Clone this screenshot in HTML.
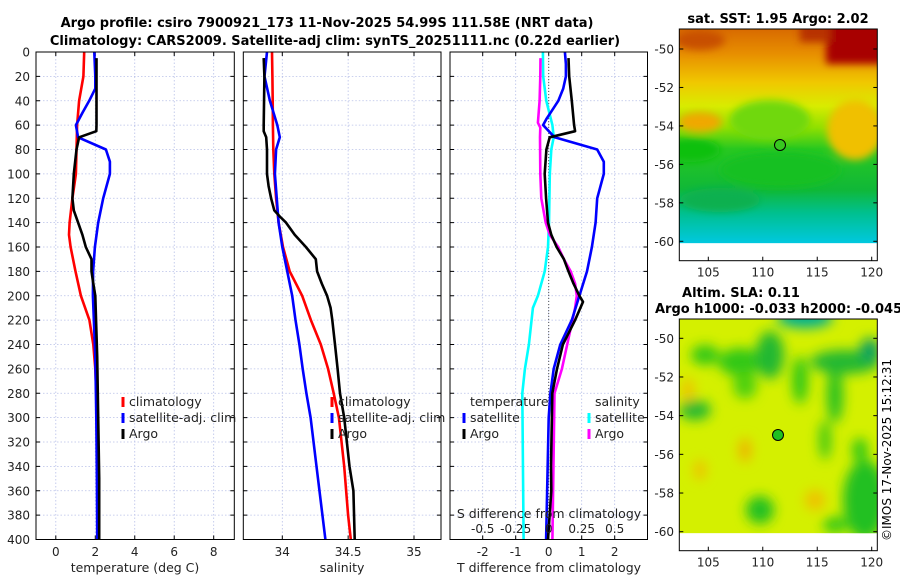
<!DOCTYPE html>
<html><head><meta charset="utf-8"><style>
html,body{margin:0;padding:0;background:#fff;}
svg{display:block;font-family:"DejaVu Sans","Liberation Sans",sans-serif;}
</style></head><body>
<svg id="fig" width="900" height="580" viewBox="0 0 900 580" xmlns="http://www.w3.org/2000/svg">
<defs>
<filter id="blur6" x="-30%" y="-30%" width="160%" height="160%"><feGaussianBlur stdDeviation="6"/></filter>
<filter id="blur4" x="-30%" y="-30%" width="160%" height="160%"><feGaussianBlur stdDeviation="4"/></filter>
<clipPath id="clipTop"><rect x="679.3" y="29" width="198" height="214.3"/></clipPath>
<clipPath id="clipBot"><rect x="679.3" y="319" width="198" height="214.3"/></clipPath>
<linearGradient id="sstGrad" x1="0" y1="0" x2="0" y2="1">
<stop offset="0" stop-color="#d86a00"/><stop offset="0.12" stop-color="#e89000"/>
<stop offset="0.25" stop-color="#f0c800"/><stop offset="0.36" stop-color="#d8ec00"/>
<stop offset="0.46" stop-color="#90e000"/><stop offset="0.56" stop-color="#28c820"/>
<stop offset="0.75" stop-color="#10b838"/><stop offset="0.86" stop-color="#00c090"/>
<stop offset="1" stop-color="#00c8e0"/></linearGradient>
</defs>
<text x="327" y="27" text-anchor="middle" font-size="13" font-weight="bold">Argo profile: csiro 7900921_173 11-Nov-2025 54.99S 111.58E (NRT data)</text>
<text x="335" y="45" text-anchor="middle" font-size="13" font-weight="bold">Climatology: CARS2009. Satellite-adj clim: synTS_20251111.nc (0.22d earlier)</text>
<g id="panels"></g>

<!-- SST map -->
<g>
<text x="778" y="23" text-anchor="middle" font-size="13" font-weight="bold">sat. SST: 1.95 Argo: 2.02</text>
<g clip-path="url(#clipTop)">
<rect x="679.3" y="29" width="198" height="214.3" fill="url(#sstGrad)"/>
<g filter="url(#blur4)">
<rect x="826" y="20" width="70" height="44" fill="#a80000"/>
<rect x="800" y="20" width="30" height="22" fill="#b83000"/>
<ellipse cx="700" cy="40" rx="25" ry="10" fill="#c85000"/>
<ellipse cx="690" cy="150" rx="30" ry="12" fill="#10c010"/>
<ellipse cx="770" cy="120" rx="40" ry="20" fill="#70d808"/>
<ellipse cx="855" cy="130" rx="28" ry="30" fill="#f0c000"/>
<ellipse cx="700" cy="122" rx="22" ry="10" fill="#f0a800"/>
<ellipse cx="780" cy="170" rx="60" ry="18" fill="#18c020"/>
<ellipse cx="720" cy="200" rx="40" ry="12" fill="#10b050"/>
</g>
</g>
<rect x="679.3" y="29" width="198" height="231.7" fill="none" stroke="#000" stroke-width="1"/>
<g id="sstTicks"></g>
<circle cx="780" cy="145" r="5.5" fill="#38c820" stroke="#000" stroke-width="1"/>
</g>

<!-- SLA map -->
<g>
<text x="741" y="297" text-anchor="middle" font-size="13" font-weight="bold">Altim. SLA: 0.11</text>
<text x="655" y="313" text-anchor="start" font-size="13" font-weight="bold">Argo h1000: -0.033 h2000: -0.045</text>
<g clip-path="url(#clipBot)">
<rect x="679.3" y="319" width="198" height="214.3" fill="#d4f000"/>
<g filter="url(#blur6)">
<ellipse cx="805" cy="318" rx="28" ry="10" fill="#00b090"/>
<ellipse cx="705" cy="355" rx="14" ry="10" fill="#30c818"/>
<ellipse cx="740" cy="362" rx="22" ry="14" fill="#30c818"/>
<ellipse cx="770" cy="355" rx="14" ry="24" fill="#20b830"/>
<ellipse cx="800" cy="380" rx="8" ry="24" fill="#30c818"/>
<ellipse cx="835" cy="395" rx="8" ry="28" fill="#28c020"/>
<ellipse cx="845" cy="362" rx="35" ry="12" fill="#20b830"/>
<ellipse cx="870" cy="350" rx="10" ry="12" fill="#10a060"/>
<ellipse cx="695" cy="410" rx="16" ry="10" fill="#20b830"/>
<ellipse cx="745" cy="385" rx="12" ry="14" fill="#50d010"/>
<ellipse cx="865" cy="500" rx="22" ry="40" fill="#20c020"/>
<ellipse cx="760" cy="510" rx="14" ry="14" fill="#20c020"/>
<ellipse cx="835" cy="525" rx="12" ry="8" fill="#30c818"/>
<ellipse cx="688" cy="390" rx="6" ry="12" fill="#f0c000"/>
<ellipse cx="745" cy="450" rx="6" ry="12" fill="#f0b000"/>
<ellipse cx="815" cy="500" rx="10" ry="10" fill="#f0c000"/>
<ellipse cx="700" cy="470" rx="6" ry="10" fill="#f0c000"/>
<ellipse cx="825" cy="440" rx="6" ry="20" fill="#40c818"/>
<ellipse cx="860" cy="450" rx="8" ry="12" fill="#30c818"/>
</g>
</g>
<rect x="679.3" y="319" width="198" height="231.7" fill="none" stroke="#000" stroke-width="1"/>
<g id="slaTicks"></g>
<circle cx="778" cy="435" r="5.5" fill="#20c020" stroke="#000" stroke-width="1"/>
</g>
<text transform="translate(891,450) rotate(-90)" text-anchor="middle" font-size="12">©IMOS 17-Nov-2025 15:12:31</text>
</svg>
<script>
// ===== data =====
var depthTicks = [0,20,40,60,80,100,120,140,160,180,200,220,240,260,280,300,320,340,360,380,400];
var tempTicks = [0,2,4,6,8];
var salTicks = [34,34.5,35];
var tdiffTicks = [-2,-1,0,1,2];
var sdiffTicks = [-0.5,-0.25,0,0.25,0.5];
var sdiffTickLabels = ["-0.5","-0.25","0","0.25","0.5"];

var climTDepth = [0,20,40,60,80,100,120,140,150,160,180,200,220,240,260,280,300,350,400];
var climT = [1.44,1.40,1.18,1.08,1.05,1.02,0.84,0.70,0.67,0.75,1.0,1.27,1.7,1.9,2.0,2.05,2.08,2.1,2.12];
var satTDepth = [0,20,30,40,50,60,70,80,90,100,120,140,160,180,200,250,300,350,400];
var satT = [1.95,2.0,2.0,1.69,1.35,1.02,1.13,2.54,2.74,2.74,2.4,2.15,1.98,1.89,1.88,2.0,2.05,2.08,2.1];
var argoTDepth = [5,20,40,60,65,70,80,100,120,130,140,150,160,170,180,190,200,250,300,350,400];
var argoT = [2.06,2.06,2.06,2.06,2.05,1.18,1.05,0.91,0.84,0.91,1.13,1.35,1.52,1.81,1.81,1.9,2.0,2.1,2.15,2.2,2.2];

var climSDepth = [0,20,40,60,80,100,120,140,160,180,200,220,240,260,280,300,340,380,400];
var climS = [33.922,33.925,33.927,33.929,33.932,33.939,33.953,33.972,34.005,34.056,34.151,34.217,34.292,34.348,34.39,34.43,34.47,34.50,34.52];
var satSDepth = [0,20,40,60,70,80,100,140,160,200,220,240,260,280,300,340,400];
var satS = [33.884,33.865,33.906,33.962,33.981,33.953,33.944,33.972,34.0,34.075,34.10,34.13,34.155,34.183,34.215,34.26,34.327];
var argoSDepth = [5,20,60,65,70,80,100,110,120,130,135,140,150,160,170,180,190,200,210,220,240,260,280,300,340,360,400];
var argoS = [33.859,33.864,33.859,33.859,33.878,33.884,33.884,33.896,33.915,33.939,33.981,34.028,34.094,34.179,34.254,34.264,34.30,34.34,34.367,34.38,34.40,34.42,34.438,34.47,34.51,34.54,34.55];

var satDTDepth = [0,10,20,30,40,50,55,60,70,80,90,100,120,140,160,180,200,220,240,260,280,300,400];
var satDT = [0.49,0.52,0.52,0.44,0.29,0.05,-0.07,-0.17,0.18,1.47,1.67,1.67,1.47,1.42,1.31,1.16,0.93,0.7,0.35,0.15,0.05,0.0,-0.08];
var argoDTDepth = [5,20,40,60,65,70,80,100,120,140,150,160,170,180,190,200,205,220,240,260,280,340,360,400];
var argoDT = [0.6,0.62,0.7,0.77,0.8,0.03,-0.07,-0.12,-0.08,-0.02,0.08,0.24,0.46,0.6,0.75,0.93,1.04,0.8,0.43,0.25,0.11,0.07,0.08,-0.02];
var satDSDepth = [0,20,40,60,70,80,100,140,160,180,200,210,240,260,280,400];
var satDS = [-0.044,-0.042,-0.018,0.028,0.038,0.02,0.008,0.002,-0.005,-0.03,-0.082,-0.12,-0.15,-0.18,-0.2,-0.19];
var argoDSDepth = [5,20,40,58,62,70,100,120,140,150,160,170,180,190,200,210,220,240,260,280,400];
var argoDS = [-0.062,-0.064,-0.069,-0.082,-0.064,-0.066,-0.064,-0.056,-0.023,0.008,0.072,0.115,0.167,0.2,0.213,0.2,0.18,0.14,0.1,0.044,0.028];

var mapLatTicks = [-50,-52,-54,-56,-58,-60];
var mapLonTicks = [105,110,115,120];

// ===== drawing =====
var NS = "http://www.w3.org/2000/svg";
var root = document.getElementById('panels');
function mk(tag, attrs, parent, txt) {
  var e = document.createElementNS(NS, tag);
  for (var k in attrs) e.setAttribute(k, attrs[k]);
  if (txt !== undefined) e.textContent = txt;
  (parent || root).appendChild(e);
  return e;
}
var Y0 = 52, Y1 = 539.5;
function yD(d) { return Y0 + d / 400 * (Y1 - Y0); }
function lin(d0, d1, r0, r1) { return function (v) { return r0 + (v - d0) / (d1 - d0) * (r1 - r0); }; }

var P1 = {x0: 36, x1: 234.3}, P2 = {x0: 243.3, x1: 441}, P3 = {x0: 450, x1: 647.5};
var xT = lin(0, 8, 55.8, 213.7);
var xS = lin(34, 35, 282.3, 414);
var xDT = lin(0, 1, 548.7, 581.7);
var xDS = lin(0, 0.25, 548.7, 581.7);

function grid(P, xs, xf) {
  var g = mk('g', {});
  
  
  depthTicks.forEach(function (d) {
    if (d > 0 && d < 400) {
      var l = mk('line', {x1: P.x0, x2: P.x1, y1: yD(d), y2: yD(d), stroke: '#b8c0e8', 'stroke-width': 0.8, 'stroke-dasharray': '1.5,2'}, g);
      
      
    }
    mk('line', {x1: P.x0, x2: P.x0 + 4, y1: yD(d), y2: yD(d), stroke: '#000', 'stroke-width': 1}, g);
    mk('line', {x1: P.x1, x2: P.x1 - 4, y1: yD(d), y2: yD(d), stroke: '#000', 'stroke-width': 1}, g);
  });
  xs.forEach(function (v) {
    var x = xf(v);
    var l = mk('line', {x1: x, x2: x, y1: Y0, y2: Y1, stroke: '#b8c0e8', 'stroke-width': 0.8, 'stroke-dasharray': '1.5,2'}, g);
    
    
    mk('line', {x1: x, x2: x, y1: Y1, y2: Y1 - 4, stroke: '#000'}, g);
    mk('line', {x1: x, x2: x, y1: Y0, y2: Y0 + 4, stroke: '#000'}, g);
  });
}
function frame(P, name) {
  var r = mk('rect', {x: P.x0, y: Y0, width: P.x1 - P.x0, height: Y1 - Y0, fill: 'none', stroke: '#000', 'stroke-width': 1});
  
  
}
function line(depths, vals, xf, color, name) {
  var pts = depths.map(function (d, i) { return xf(vals[i]).toFixed(1) + ',' + yD(d).toFixed(1); }).join(' ');
  var p = mk('polyline', {points: pts, fill: 'none', stroke: color, 'stroke-width': 2.6, 'stroke-linejoin': 'round'});
  
  
}
function xlabels(vals, labels, xf, y, name) {
  vals.forEach(function (v, i) {
    var t = mk('text', {x: xf(v), y: y, 'text-anchor': 'middle', 'font-size': 12, fill: '#222'}, root, labels ? labels[i] : String(v));
    
    
  });
}
function legendEntry(x, y, color, label) {
  var g = mk('g', {});
  
  
  if (color) mk('rect', {x: x - 1.5, y: y - 9, width: 3, height: 10, fill: color}, g);
  mk('text', {x: x + 6, y: y, 'font-size': 12.5, fill: '#222'}, g, label);
}

// panel 1
grid(P1, tempTicks, xT);
line(climTDepth, climT, xT, '#ff0000', 'climatology-temp-line');
line(satTDepth, satT, xT, '#0000ff', 'satellite-temp-line');
line(argoTDepth, argoT, xT, '#000000', 'argo-temp-line');
frame(P1, 'temperature-panel');
depthTicks.forEach(function (d) {
  var t = mk('text', {x: 30, y: yD(d) + 4.5, 'text-anchor': 'end', 'font-size': 12, fill: '#222'}, root, String(d));
  
  
});
xlabels(tempTicks, null, xT, 556, 'temp-tick-label');
var t1 = mk('text', {x: 135, y: 572, 'text-anchor': 'middle', 'font-size': 12.5, fill: '#222'}, root, 'temperature (deg C)');


legendEntry(123, 406, '#ff0000', 'climatology');
legendEntry(123, 422, '#0000ff', 'satellite-adj. clim');
legendEntry(123, 438, '#000000', 'Argo');

// panel 2
grid(P2, salTicks, xS);
line(climSDepth, climS, xS, '#ff0000', 'climatology-salinity-line');
line(satSDepth, satS, xS, '#0000ff', 'satellite-salinity-line');
line(argoSDepth, argoS, xS, '#000000', 'argo-salinity-line');
frame(P2, 'salinity-panel');
xlabels(salTicks, null, xS, 556, 'salinity-tick-label');
var t2 = mk('text', {x: 342, y: 572, 'text-anchor': 'middle', 'font-size': 12.5, fill: '#222'}, root, 'salinity');


legendEntry(332, 406, '#ff0000', 'climatology');
legendEntry(332, 422, '#0000ff', 'satellite-adj. clim');
legendEntry(332, 438, '#000000', 'Argo');

// panel 3
grid(P3, tdiffTicks, xDT);
var zl = mk('line', {x1: xDT(0), x2: xDT(0), y1: Y0, y2: Y1, stroke: '#555', 'stroke-width': 1, 'stroke-dasharray': '1,2'});


line(satDSDepth, satDS, xDS, '#00ffff', 'satellite-salinity-diff-line');
line(argoDSDepth, argoDS, xDS, '#ff00ff', 'argo-salinity-diff-line');
line(satDTDepth, satDT, xDT, '#0000ff', 'satellite-temp-diff-line');
line(argoDTDepth, argoDT, xDT, '#000000', 'argo-temp-diff-line');
frame(P3, 'difference-panel');
xlabels(tdiffTicks, null, xDT, 556, 'tdiff-tick-label');
xlabels(sdiffTicks, sdiffTickLabels, xDS, 533, 'sdiff-tick-label');
var t3 = mk('text', {x: 549, y: 572, 'text-anchor': 'middle', 'font-size': 12.5, fill: '#222'}, root, 'T difference from climatology');


var t4 = mk('text', {x: 549, y: 518, 'text-anchor': 'middle', 'font-size': 12.5, fill: '#222'}, root, 'S difference from climatology');


legendEntry(464, 406, null, 'temperature');
legendEntry(464, 422, '#0000ff', 'satellite');
legendEntry(464, 438, '#000000', 'Argo');
legendEntry(589, 406, null, 'salinity');
legendEntry(589, 422, '#00ffff', 'satellite');
legendEntry(589, 438, '#ff00ff', 'Argo');

// map ticks
function mapTicks(gid, latTop, lat60, yBot) {
  var g = document.getElementById(gid);
  var yL = lin(-50, -60, latTop, lat60);
  var xL = lin(105, 120, 708.3, 871.7);
  mapLatTicks.forEach(function (v) {
    var y = yL(v);
    mk('line', {x1: 679.3, x2: 683.3, y1: y, y2: y, stroke: '#000'}, g);
    mk('line', {x1: 877.3, x2: 873.3, y1: y, y2: y, stroke: '#000'}, g);
    var t = mk('text', {x: 674, y: y + 4.5, 'text-anchor': 'end', 'font-size': 12, fill: '#222'}, g, String(v));
    
    
  });
  mapLonTicks.forEach(function (v) {
    var x = xL(v);
    mk('line', {x1: x, x2: x, y1: yBot, y2: yBot - 4, stroke: '#000'}, g);
    var t = mk('text', {x: x, y: yBot + 16, 'text-anchor': 'middle', 'font-size': 12, fill: '#222'}, g, String(v));
    
    
  });
}
mapTicks('sstTicks', 49, 241.3, 260.7);
mapTicks('slaTicks', 338.3, 531.7, 550.7);
</script>
</body></html>
